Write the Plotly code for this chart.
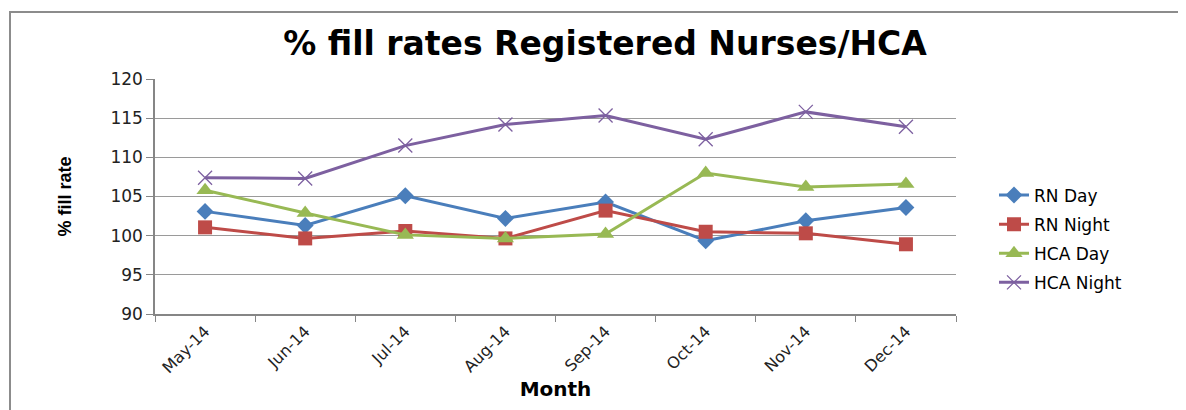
import plotly.graph_objects as go

months = ["May-14", "Jun-14", "Jul-14", "Aug-14", "Sep-14", "Oct-14", "Nov-14", "Dec-14"]
rn_day = [103.1, 101.3, 105.1, 102.2, 104.3, 99.35, 101.9, 103.6]
rn_night = [101.06, 99.65, 100.6, 99.65, 103.2, 100.5, 100.3, 98.9]
hca_day = [105.8, 102.9, 100.1, 99.65, 100.2, 108.0, 106.2, 106.6]
hca_night = [107.4, 107.3, 111.5, 114.2, 115.35, 112.3, 115.8, 113.9]

series = [
    ("RN Day", rn_day, "#4A7EBB", "diamond", 13),
    ("RN Night", rn_night, "#BE4B48", "square", 14),
    ("HCA Day", hca_day, "#98B954", "triangle-up", 15),
    ("HCA Night", hca_night, "#7D60A0", "x-thin", 14),
]

fig = go.Figure()
for i, (name, vals, col, sym, sz) in enumerate(series):
    marker = dict(symbol=sym, size=sz, color=col)
    if sym == "x-thin":
        marker["line"] = dict(color=col, width=1.3)
    fig.add_trace(go.Scatter(
        x=months, y=vals, name=name, mode="lines+markers",
        line=dict(color=col, width=3), marker=marker,
        legendgroup=name,
    ))

# page body has an 8px margin; compensate so plot lands at target pixels
OFF = 8
W, H = 1186, 410
L, R, T, B = 155, 956, 79, 314
pw, ph = R - L, B - T

def px_x(x):
    return (x - L) / pw

def px_y(y):
    return (B - y) / ph

fig.add_shape(type="rect", xref="paper", yref="paper",
              x0=px_x(10), x1=px_x(1200), y0=px_y(430), y1=px_y(12),
              line=dict(color="#8C8C8C", width=2), fillcolor="rgba(0,0,0,0)")

fig.update_layout(
    width=W, height=H,
    margin=dict(l=L - OFF, r=W - R + OFF, t=T - OFF, b=H - B + OFF),
    paper_bgcolor="white", plot_bgcolor="white",
    title=dict(text="<b>% fill rates Registered Nurses/HCA</b>",
               x=(605 - OFF) / W, xanchor="center", y=1 - (43 - OFF) / H, yanchor="middle",
               yref="container", xref="container",
               font=dict(family="DejaVu Sans", size=33, color="black")),
    legend=dict(x=px_x(994), xanchor="left", y=px_y(239), yanchor="middle",
                font=dict(family="DejaVu Sans", size=17, color="black"),
                tracegroupgap=4, bgcolor="rgba(0,0,0,0)"),
    showlegend=True,
)

fig.update_xaxes(
    type="category", range=[-0.5, 7.5],
    tickson="boundaries", ticks="outside", ticklen=6, tickcolor="#868686",
    showline=True, linecolor="#868686", linewidth=1.5,
    showgrid=False, tickangle=-45,
    tickfont=dict(family="DejaVu Sans", size=16, color="#222"),
    title=dict(text="<b>Month</b>", font=dict(family="DejaVu Sans", size=20, color="black"), standoff=6),
)
fig.update_yaxes(
    range=[90, 120], dtick=5, tick0=90,
    ticks="outside", ticklen=7, tickcolor="#868686",
    showline=True, linecolor="#868686", linewidth=1.5,
    showgrid=True, gridcolor="#9A9A9A", gridwidth=1, zeroline=False,
    tickfont=dict(family="DejaVu Sans", size=17, color="#222"),
    title=dict(text="<b>% fill rate</b>", font=dict(family="Liberation Sans Narrow, Liberation Sans", size=18, color="black"), standoff=34),
)

fig.write_html("out.html")
